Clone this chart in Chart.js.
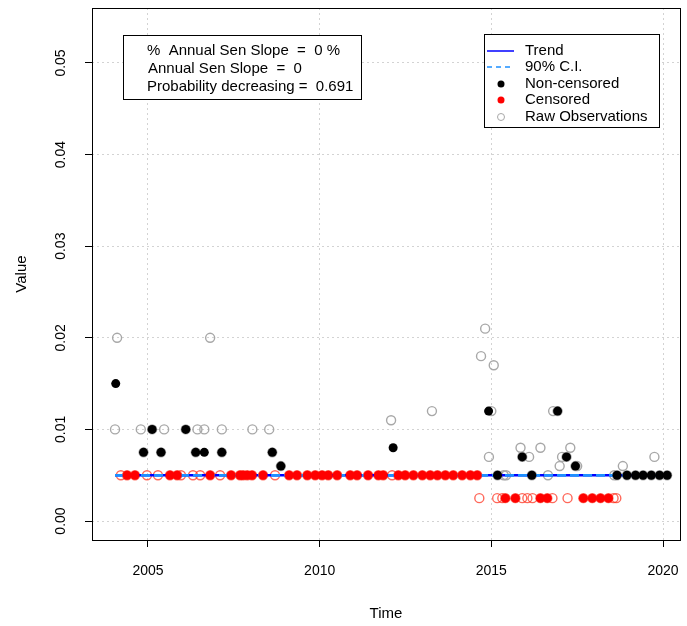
<!DOCTYPE html>
<html>
<head>
<meta charset="utf-8">
<script src="https://cdn.jsdelivr.net/npm/chart.js@4.4.0/dist/chart.umd.min.js"></script>
<style>
  body { margin: 0; background: #fff; }
  #wrap { width: 687px; height: 626px; }
</style>
</head>
<body>
<div id="wrap"><canvas id="trendChart" width="687" height="626"></canvas></div>
<script>
// Axis ticks
const xTicks = [2005, 2010, 2015, 2020];
const yTicks = [0, 0.01, 0.02, 0.03, 0.04, 0.05];

// Raw observations (non-censored), grey open circles
const rawYears = [2004.04, 2004.10, 2004.79, 2005.47, 2006.44, 2006.64, 2006.81, 2007.15, 2008.04, 2008.53,
  2012.08, 2013.27, 2014.70, 2014.82, 2015.07, 2015.00, 2016.80, 2014.93, 2015.85, 2016.43,
  2016.10, 2017.30, 2017.06, 2016.99, 2017.50, 2018.83, 2019.75, 2015.36, 2015.43, 2016.65, 2018.58,
  2004.87, 2005.12, 2005.38, 2006.10, 2006.39, 2007.15, 2008.62, 2008.87, 2015.18, 2015.90, 2016.18,
  2016.93, 2017.19, 2017.45, 2018.66, 2018.95, 2019.20, 2019.42, 2019.66, 2019.90, 2020.12];
const rawValues = [0.010, 0.020, 0.010, 0.010, 0.010, 0.010, 0.020, 0.010, 0.010, 0.010,
  0.011, 0.012, 0.018, 0.021, 0.017, 0.012, 0.012, 0.007, 0.008, 0.008,
  0.007, 0.008, 0.007, 0.006, 0.006, 0.006, 0.007, 0.005, 0.005, 0.005, 0.005,
  0.0075, 0.010, 0.0075, 0.010, 0.0075, 0.0075, 0.0075, 0.006, 0.005, 0.007, 0.005,
  0.012, 0.007, 0.006, 0.005, 0.005, 0.005, 0.005, 0.005, 0.005, 0.005];

// Raw observations (censored), red open circles
const censRawYears = [2004.21, 2004.39, 2004.62, 2004.97, 2005.29, 2005.64, 2005.85, 2005.96, 2006.31, 2006.52,
  2006.81, 2007.10, 2007.42, 2007.68, 2007.77, 2007.89, 2008.03, 2008.35, 2008.70, 2009.11,
  2009.34, 2009.64, 2009.87, 2010.07, 2010.25, 2010.51, 2010.89, 2011.09, 2011.41, 2011.71,
  2011.85, 2012.11, 2012.29, 2012.49, 2012.73, 2012.99, 2013.22, 2013.43, 2013.66, 2013.89,
  2014.15, 2014.39, 2014.59,
  2014.65, 2015.17, 2015.32, 2015.41, 2015.70, 2015.90, 2016.05, 2016.20, 2016.43, 2016.63,
  2016.78, 2017.22, 2017.68, 2017.94, 2018.18, 2018.41, 2018.56, 2018.64];
const censRawValues = [0.005, 0.005, 0.005, 0.005, 0.005, 0.005, 0.005, 0.005, 0.005, 0.005,
  0.005, 0.005, 0.005, 0.005, 0.005, 0.005, 0.005, 0.005, 0.005, 0.005,
  0.005, 0.005, 0.005, 0.005, 0.005, 0.005, 0.005, 0.005, 0.005, 0.005,
  0.005, 0.005, 0.005, 0.005, 0.005, 0.005, 0.005, 0.005, 0.005, 0.005,
  0.005, 0.005, 0.005,
  0.0025, 0.0025, 0.0025, 0.0025, 0.0025, 0.0025, 0.0025, 0.0025, 0.0025, 0.0025,
  0.0025, 0.0025, 0.0025, 0.0025, 0.0025, 0.0025, 0.0025, 0.0025];

// Non-censored values, black filled
const obsYears = [2004.06, 2004.87, 2005.12, 2005.38, 2006.10, 2006.39, 2006.64, 2007.15, 2008.62, 2008.87,
  2012.14, 2014.92, 2015.18, 2015.90, 2016.18, 2016.93, 2017.19, 2017.45, 2018.66, 2018.95,
  2019.20, 2019.42, 2019.66, 2019.90, 2020.12];
const obsValues = [0.015, 0.0075, 0.010, 0.0075, 0.010, 0.0075, 0.0075, 0.0075, 0.0075, 0.006,
  0.008, 0.012, 0.005, 0.007, 0.005, 0.012, 0.007, 0.006, 0.005, 0.005,
  0.005, 0.005, 0.005, 0.005, 0.005];

// Censored values, red filled
const censYears = [2004.39, 2004.62, 2005.64, 2005.85, 2006.81, 2007.42, 2007.68, 2007.77, 2007.89, 2008.03,
  2008.35, 2009.11, 2009.34, 2009.64, 2009.87, 2010.07, 2010.25, 2010.51, 2010.89, 2011.09,
  2011.41, 2011.71, 2011.85, 2012.29, 2012.49, 2012.73, 2012.99, 2013.22, 2013.43, 2013.66,
  2013.89, 2014.15, 2014.39, 2014.59,
  2015.41, 2015.70, 2016.43, 2016.63, 2017.68, 2017.94, 2018.18, 2018.41];
const censValues = [0.005, 0.005, 0.005, 0.005, 0.005, 0.005, 0.005, 0.005, 0.005, 0.005,
  0.005, 0.005, 0.005, 0.005, 0.005, 0.005, 0.005, 0.005, 0.005, 0.005,
  0.005, 0.005, 0.005, 0.005, 0.005, 0.005, 0.005, 0.005, 0.005, 0.005,
  0.005, 0.005, 0.005, 0.005,
  0.0025, 0.0025, 0.0025, 0.0025, 0.0025, 0.0025, 0.0025, 0.0025];

// Trend and 90% confidence interval
const trendYears = [2004.04, 2020.15];
const trendValues = [0.005, 0.005];
const ciLowValues = [0.005, 0.005];
const ciHighValues = [0.005, 0.005];

const statLines = [
  '%  Annual Sen Slope  =  0 %',
  'Annual Sen Slope  =  0',
  'Probability decreasing =  0.691'
];

const FONT = '"Liberation Sans", Arial, Helvetica, sans-serif';

function pts(xs, ys) {
  return xs.map((x, i) => ({ x: x, y: ys[i] }));
}

// box around the plot, y tick labels, stats box and legend
const extrasPlugin = {
  id: 'extras',
  afterDraw(chart) {
    const ctx = chart.ctx;
    const a = chart.chartArea;
    const yScale = chart.scales.y;
    ctx.save();
    ctx.strokeStyle = '#000';
    ctx.lineWidth = 1;
    ctx.strokeRect(Math.round(a.left) + 0.5, Math.round(a.top) + 0.5,
      Math.round(a.right - a.left), Math.round(a.bottom - a.top));

    // rotated y tick labels
    ctx.fillStyle = '#000';
    ctx.font = '14px ' + FONT;
    ctx.textAlign = 'center';
    ctx.textBaseline = 'middle';
    yTicks.forEach(v => {
      const y = yScale.getPixelForValue(v);
      ctx.save();
      ctx.translate(61, y);
      ctx.rotate(-Math.PI / 2);
      ctx.fillText(v.toFixed(2), 0, 0);
      ctx.restore();
    });

    // stats box
    ctx.fillStyle = '#fff';
    ctx.fillRect(123, 35, 238, 64);
    ctx.strokeRect(123.5, 35.5, 238, 64);
    ctx.fillStyle = '#000';
    ctx.font = '15px ' + FONT;
    ctx.textAlign = 'left';
    ctx.fillText(statLines[0], 147, 51);
    ctx.fillText(statLines[1], 148, 69);
    ctx.fillText(statLines[2], 147, 87);

    // legend
    ctx.fillStyle = '#fff';
    ctx.fillRect(484, 34, 175, 93);
    ctx.strokeRect(484.5, 34.5, 175, 93);
    const rows = [51, 67, 84, 100, 117];
    const labels = ['Trend', '90% C.I.', 'Non-censored', 'Censored', 'Raw Observations'];
    ctx.fillStyle = '#000';
    labels.forEach((t, i) => ctx.fillText(t, 525, rows[i]));
    ctx.strokeStyle = '#0000ff';
    ctx.lineWidth = 1.5;
    ctx.beginPath(); ctx.moveTo(487, rows[0]); ctx.lineTo(514, rows[0]); ctx.stroke();
    ctx.strokeStyle = '#1e90ff';
    ctx.setLineDash([5, 4]);
    ctx.beginPath(); ctx.moveTo(487, rows[1]); ctx.lineTo(514, rows[1]); ctx.stroke();
    ctx.setLineDash([]);
    ctx.fillStyle = '#000';
    ctx.beginPath(); ctx.arc(501, rows[2], 3.5, 0, Math.PI * 2); ctx.fill();
    ctx.fillStyle = '#ff0000';
    ctx.beginPath(); ctx.arc(501, rows[3], 3.5, 0, Math.PI * 2); ctx.fill();
    ctx.strokeStyle = '#a8a8a8';
    ctx.lineWidth = 1;
    ctx.beginPath(); ctx.arc(501, rows[4], 3.5, 0, Math.PI * 2); ctx.stroke();
    ctx.restore();
  }
};

const ctx = document.getElementById('trendChart').getContext('2d');
new Chart(ctx, {
  type: 'scatter',
  data: {
    datasets: [
      {
        label: 'Non-censored',
        data: pts(obsYears, obsValues),
        backgroundColor: '#000',
        borderColor: '#000',
        pointRadius: 4.5,
        borderWidth: 0,
        order: 1
      },
      {
        label: 'Censored',
        data: pts(censYears, censValues),
        backgroundColor: '#ff0000',
        borderColor: '#ff0000',
        pointRadius: 4.5,
        borderWidth: 0,
        order: 2
      },
      {
        label: '90% C.I. low',
        data: pts(trendYears, ciLowValues),
        showLine: true,
        borderColor: '#1e90ff',
        borderWidth: 2.5,
        borderDash: [9, 4],
        pointRadius: 0,
        order: 3
      },
      {
        label: '90% C.I. high',
        data: pts(trendYears, ciHighValues),
        showLine: true,
        borderColor: '#1e90ff',
        borderWidth: 2.5,
        borderDash: [9, 4],
        pointRadius: 0,
        order: 4
      },
      {
        label: 'Trend',
        data: pts(trendYears, trendValues),
        showLine: true,
        borderColor: '#0000ff',
        borderWidth: 2.5,
        pointRadius: 0,
        order: 5
      },
      {
        label: 'Raw censored',
        data: pts(censRawYears, censRawValues),
        backgroundColor: 'rgba(0,0,0,0)',
        borderColor: 'rgba(255,40,20,0.7)',
        pointRadius: 4.5,
        borderWidth: 1.4,
        order: 6
      },
      {
        label: 'Raw Observations',
        data: pts(rawYears, rawValues),
        backgroundColor: 'rgba(0,0,0,0)',
        borderColor: '#a8a8a8',
        pointRadius: 4.5,
        borderWidth: 1.4,
        order: 7
      }
    ]
  },
  options: {
    responsive: false,
    animation: false,
    layout: { padding: { top: 8, right: 7, left: 0, bottom: 0 } },
    plugins: {
      legend: { display: false },
      tooltip: { enabled: false }
    },
    scales: {
      x: {
        type: 'linear',
        min: 2003.369,
        max: 2020.495,
        afterBuildTicks: scale => { scale.ticks = xTicks.map(v => ({ value: v })); },
        afterFit: scale => {
          scale.height = 86;
          scale.paddingLeft = 0;
          scale.paddingRight = 0;
        },
        grid: {
          color: '#d3d3d3',
          tickColor: '#000',
          tickLength: 7,
          tickBorderDash: [],
          lineWidth: 1
        },
        border: { display: false, dash: [2, 3] },
        ticks: {
          color: '#000',
          font: { size: 14, family: FONT },
          padding: 16,
          maxRotation: 0,
          callback: v => String(v)
        },
        title: {
          display: true,
          text: 'Time',
          color: '#000',
          font: { size: 15, family: FONT },
          padding: { top: 0, bottom: 3 }
        }
      },
      y: {
        type: 'linear',
        min: -0.00207,
        max: 0.0560,
        afterBuildTicks: scale => { scale.ticks = yTicks.map(v => ({ value: v })); },
        afterFit: scale => {
          scale.width = 92;
          scale.paddingTop = 0;
          scale.paddingBottom = 0;
        },
        grid: {
          color: '#d3d3d3',
          tickColor: '#000',
          tickLength: 7,
          tickBorderDash: [],
          lineWidth: 1
        },
        border: { display: false, dash: [2, 3] },
        ticks: { display: false },
        title: {
          display: true,
          text: 'Value',
          color: '#000',
          font: { size: 15, family: FONT },
          padding: { top: 13, bottom: 0 }
        }
      }
    }
  },
  plugins: [extrasPlugin]
});
</script>
</body>
</html>
